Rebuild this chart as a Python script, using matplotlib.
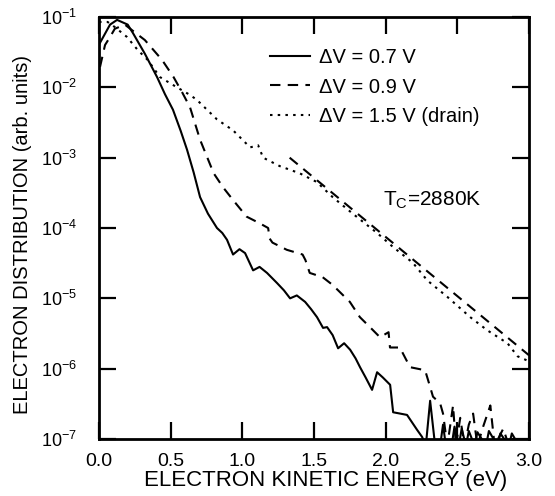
import matplotlib
matplotlib.use('Agg')
import matplotlib.pyplot as plt
import matplotlib.ticker as ticker
import numpy as np

plt.rcParams['font.family'] = ['Liberation Sans', 'DejaVu Sans']
plt.rcParams['mathtext.fontset'] = 'custom'
plt.rcParams['mathtext.rm'] = 'Liberation Sans'
plt.rcParams['mathtext.it'] = 'Liberation Sans'

# dV = 0.7 V (solid)
e_07 = [0.007, 0.077, 0.126, 0.20, 0.237, 0.32, 0.405, 0.46, 0.516, 0.57, 0.614, 0.66, 0.705,
        0.76, 0.823, 0.86, 0.893, 0.935, 0.98, 1.019, 1.075, 1.12, 1.172, 1.242, 1.29, 1.333,
        1.38, 1.438, 1.48, 1.521, 1.563, 1.591, 1.63, 1.668, 1.71, 1.752, 1.79, 1.821, 1.86,
        1.905, 1.940, 1.98, 2.031, 2.052, 2.10, 2.149, 2.219, 2.254, 2.28, 2.31, 2.345, 2.38,
        2.40, 2.42, 2.46, 2.48, 2.51, 2.53, 2.56, 2.58, 2.62, 2.64, 2.70, 2.72, 2.78, 2.80,
        2.86, 2.88, 2.93]
f_07 = [4.3e-2, 7.8e-2, 9.1e-2, 7.8e-2, 5.9e-2, 3.0e-2, 1.4e-2, 8.0e-3, 4.8e-3, 2.4e-3, 1.3e-3,
        6.2e-4, 2.75e-4, 1.6e-4, 1.0e-4, 8.5e-5, 6.8e-5, 4.2e-5, 5.0e-5, 4.4e-5, 2.5e-5, 2.8e-5,
        2.3e-5, 1.65e-5, 1.3e-5, 1.0e-5, 1.1e-5, 8.9e-6, 7.0e-6, 5.4e-6, 3.8e-6, 3.9e-6, 3.0e-6,
        1.95e-6, 2.3e-6, 1.86e-6, 1.4e-6, 1.05e-6, 7.5e-7, 5.0e-7, 8.9e-7, 7.5e-7, 5.9e-7, 2.4e-7,
        2.3e-7, 2.2e-7, 1.35e-7, 1.07e-7, 8e-8, 3.5e-7, 8e-8, 8e-8, 1.6e-7, 8e-8, 8e-8, 1.5e-7,
        8e-8, 1.4e-7, 8e-8, 1.3e-7, 8e-8, 1.25e-7, 8e-8, 1.3e-7, 8e-8, 1.2e-7, 8e-8, 1.2e-7, 8e-8]

# dV = 0.9 V (dashed)
e_09 = [0.007, 0.042, 0.077, 0.11, 0.18, 0.32, 0.44, 0.52, 0.58, 0.635, 0.705, 0.80, 0.865,
        0.935, 1.03, 1.12, 1.18, 1.19, 1.21, 1.31, 1.42, 1.44, 1.47, 1.56, 1.63, 1.75, 1.82,
        1.89, 1.96, 2.02, 2.03, 2.10, 2.12, 2.17, 2.275, 2.31, 2.33, 2.38, 2.40, 2.43, 2.47,
        2.49, 2.52, 2.55, 2.58, 2.61, 2.64, 2.68, 2.73, 2.76, 2.82, 2.86]
f_09 = [1.95e-2, 4.0e-2, 5.2e-2, 6.8e-2, 7.8e-2, 4.7e-2, 2.45e-2, 1.4e-2, 8.5e-3, 5.2e-3, 1.8e-3,
        6.0e-4, 3.8e-4, 2.5e-4, 1.45e-4, 1.17e-4, 1.0e-4, 7.1e-5, 6.2e-5, 4.9e-5, 4.2e-5, 3.5e-5,
        2.3e-5, 2.0e-5, 1.55e-5, 8.9e-6, 5.4e-6, 3.9e-6, 2.8e-6, 3.3e-6, 2.0e-6, 2.0e-6, 1.65e-6,
        1.05e-6, 9.5e-7, 5.5e-7, 4.0e-7, 3.2e-7, 2.3e-7, 8e-8, 3.0e-7, 8e-8, 2.0e-7, 8e-8,
        1.6e-7, 2.3e-7, 8e-8, 1.5e-7, 3.0e-7, 8e-8, 1.4e-7, 8e-8]

# dV = 1.5 V drain (dotted)
e_15 = [0.0, 0.06, 0.11, 0.195, 0.27, 0.34, 0.425, 0.544, 0.635, 0.684, 0.823, 0.935, 1.054,
        1.11, 1.145, 1.26, 1.40, 1.52, 1.63, 1.77, 1.94, 2.05, 2.19, 2.29, 2.43, 2.59, 2.71,
        2.85, 2.92, 2.99]
f_15 = [8.5e-2, 8.5e-2, 7.2e-2, 5.2e-2, 3.4e-2, 2.45e-2, 1.4e-2, 1.0e-2, 7.8e-3, 6.6e-3, 3.5e-3,
        2.45e-3, 1.4e-3, 1.5e-3, 1.0e-3, 7.6e-4, 6.0e-4, 4.5e-4, 2.75e-4, 1.6e-4, 8.5e-5, 5.4e-5,
        3.2e-5, 1.8e-5, 1.05e-5, 5.4e-6, 3.5e-6, 2.3e-6, 1.5e-6, 1.3e-6]

# Maxwellian fit, T_C = 2880 K
e_fit = [1.33, 3.0]
f_fit = [1.0e-3, 1.55e-6]

fig = plt.figure(figsize=(5.55, 4.96), dpi=100)
ax = fig.add_axes([0.1784, 0.1149, 0.7748, 0.8508])

ax.plot(e_07, f_07, color='black', lw=1.5, ls='-', label='ΔV = 0.7 V')
ax.plot(e_09, f_09, color='black', lw=1.5, ls=(0, (5, 3.5)), label='ΔV = 0.9 V')
ax.plot(e_15, f_15, color='black', lw=1.5, ls=(0, (1.2, 2.5)), label='ΔV = 1.5 V (drain)')
ax.plot(e_fit, f_fit, color='black', lw=1.5, ls=(0, (5, 3.5)))

ax.set_yscale('log')
ax.set_xlim(0, 3.0)
ax.set_ylim(1e-7, 1e-1)
ax.xaxis.set_major_locator(ticker.MultipleLocator(0.5))
ax.xaxis.set_major_formatter(ticker.FormatStrFormatter('%.1f'))
ax.yaxis.set_major_locator(ticker.LogLocator(base=10, numticks=10))
ax.yaxis.set_minor_locator(ticker.NullLocator())
ax.yaxis.set_major_formatter(ticker.FuncFormatter(lambda v, p: r'$\mathregular{10^{%d}}$' % round(np.log10(v))))
ax.tick_params(which='major', direction='in', length=12, width=1.6, top=True, right=True)
ax.tick_params(axis='x', pad=10, labelsize=14)
ax.tick_params(axis='y', pad=16, labelsize=13)
for s in ax.spines.values():
    s.set_linewidth(2)

ax.set_xlabel('ELECTRON KINETIC ENERGY (eV)', fontsize=16, labelpad=0, x=0.528)
ax.set_ylabel('ELECTRON DISTRIBUTION (arb. units)', fontsize=14.5, labelpad=6, y=0.485)

ax.legend(loc='upper left', bbox_to_anchor=(0.3977, 0.9265), frameon=False, fontsize=14.5,
          handlelength=2.0, handletextpad=0.45, labelspacing=0.52, borderpad=0, borderaxespad=0)
ax.text(0.660, 0.566, r'T$_\mathregular{C}$=2880K', transform=ax.transAxes,
        fontsize=15, va='center', ha='left')

fig.savefig('out.png', dpi=100)
